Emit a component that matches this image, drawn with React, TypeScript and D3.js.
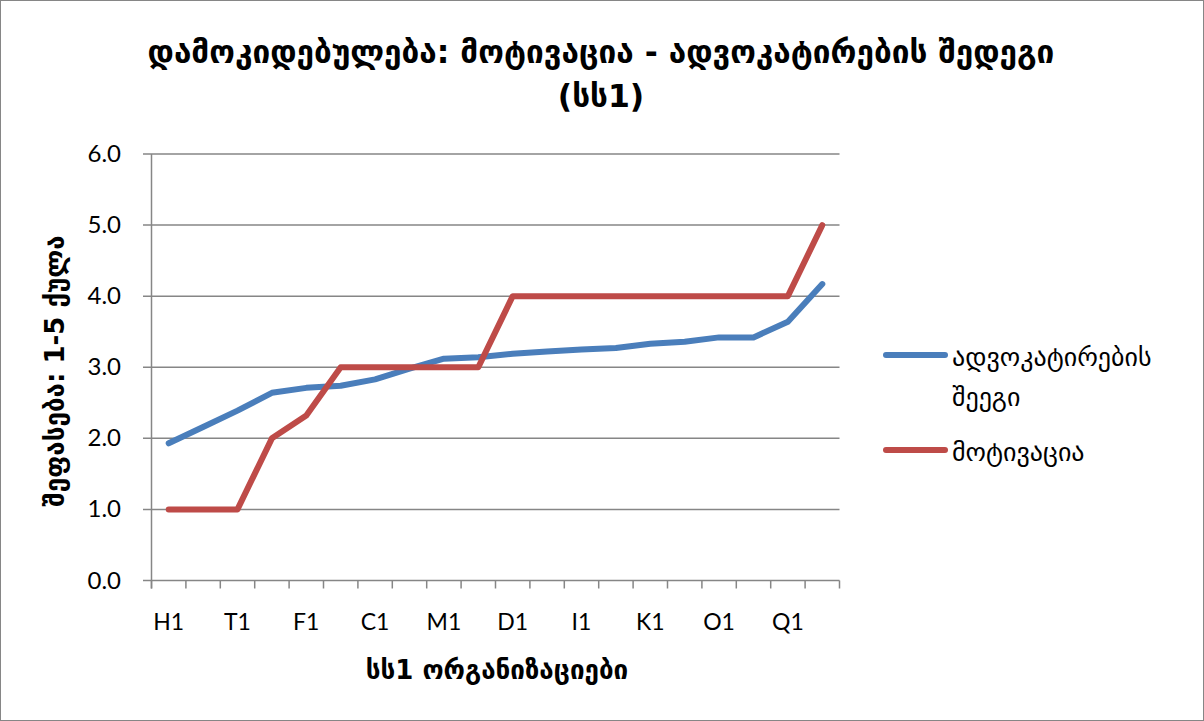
import React from 'react';
import * as d3 from 'd3';

const W = 1204;
const H = 721;

// 20 organisations, only every other one is labelled on the axis
const tickLabels = ['H1', 'T1', 'F1', 'C1', 'M1', 'D1', 'I1', 'K1', 'O1', 'Q1'];
const nCategories = 20;

const advocacy = [1.93, 2.16, 2.39, 2.64, 2.71, 2.74, 2.83, 2.98, 3.12, 3.14, 3.19, 3.22, 3.25, 3.27, 3.33, 3.36, 3.42, 3.42, 3.64, 4.17];
const motivation = [1, 1, 1, 2, 2.32, 3, 3, 3, 3, 3, 4, 4, 4, 4, 4, 4, 4, 4, 4, 5];

const yTicks = [0, 1, 2, 3, 4, 5, 6];

const series = [
  { name: ['ადვოკატირების', 'შეეგი'], values: advocacy, color: '#4A7EBB' },
  { name: ['მოტივაცია'], values: motivation, color: '#BE4B48' },
];

const titleLines = ['დამოკიდებულება: მოტივაცია - ადვოკატირების შედეგი', '(სს1)'];
const yTitle = 'შეფასება: 1-5 ქულა';
const xTitle = 'სს1 ორგანიზაციები';

const numFont = 'Lato, "Open Sans", sans-serif';
const geoFont = '"DejaVu Sans", sans-serif';

export default function App() {
  const margin = { top: 154, left: 151.5, right: 1204 - 839.5, bottom: 721 - 580.5 };

  const x = d3.scaleBand<number>()
    .domain(d3.range(nCategories))
    .range([margin.left, W - margin.right]);

  const y = d3.scaleLinear()
    .domain([0, 6])
    .range([H - margin.bottom, margin.top]);

  const line = d3.line<number>()
    .x((_, i) => (x(i) as number) + x.bandwidth() / 2)
    .y(d => y(d));

  const bottom = y(0);
  const grid = '#868686';

  return (
    <svg width={W} height={H} style={{ position: 'absolute', left: 0, top: 0, background: '#fff' }}>
      <rect x={0.5} y={0.5} width={W - 1} height={H - 1} fill="#fff" stroke="#868686" strokeWidth={1} />

      {titleLines.map((t, i) => (
        <text key={i} x={601} y={63 + i * 44} textAnchor="middle" fontFamily={geoFont}
          fontWeight="bold" fontSize={31.5} fill="#000">{t}</text>
      ))}

      {yTicks.map(t => (
        <g key={t}>
          <line x1={143} x2={W - margin.right} y1={y(t)} y2={y(t)} stroke={grid} strokeWidth={1.5} />
          <text x={121} y={y(t) + 8} textAnchor="end" fontFamily={numFont} fontSize={24} fill="#000">
            {t.toFixed(1)}
          </text>
        </g>
      ))}

      <line x1={margin.left} x2={margin.left} y1={y(6)} y2={bottom + 8} stroke={grid} strokeWidth={1.5} />
      {d3.range(nCategories + 1).map(i => {
        const xx = i < nCategories ? (x(i) as number) : W - margin.right;
        return <line key={i} x1={xx} x2={xx} y1={bottom} y2={bottom + 8} stroke={grid} strokeWidth={1.5} />;
      })}

      {tickLabels.map((l, k) => (
        <text key={l} x={(x(k * 2) as number) + x.bandwidth() / 2} y={630} textAnchor="middle"
          fontFamily={numFont} fontSize={23} fill="#000">{l}</text>
      ))}

      <text x={497} y={679} textAnchor="middle" fontFamily={geoFont} fontWeight="bold" fontSize={26} fill="#000">
        {xTitle}
      </text>
      <text transform={`translate(64,${371}) rotate(-90)`} textAnchor="middle" fontFamily={geoFont}
        fontWeight="bold" fontSize={26} fill="#000">{yTitle}</text>

      {series.map(s => (
        <path key={s.color} d={line(s.values) as string} fill="none" stroke={s.color} strokeWidth={6}
          strokeLinejoin="round" strokeLinecap="round" />
      ))}

      {series.map((s, i) => {
        const ly = i === 0 ? 355 : 450;
        return (
          <g key={s.color}>
            <line x1={886} x2={945} y1={ly} y2={ly} stroke={s.color} strokeWidth={6} strokeLinecap="round" />
            {s.name.map((n, j) => (
              <text key={j} x={952} y={ly + 11 + j * 40} fontFamily={geoFont} fontSize={26} fill="#000">{n}</text>
            ))}
          </g>
        );
      })}
    </svg>
  );
}
